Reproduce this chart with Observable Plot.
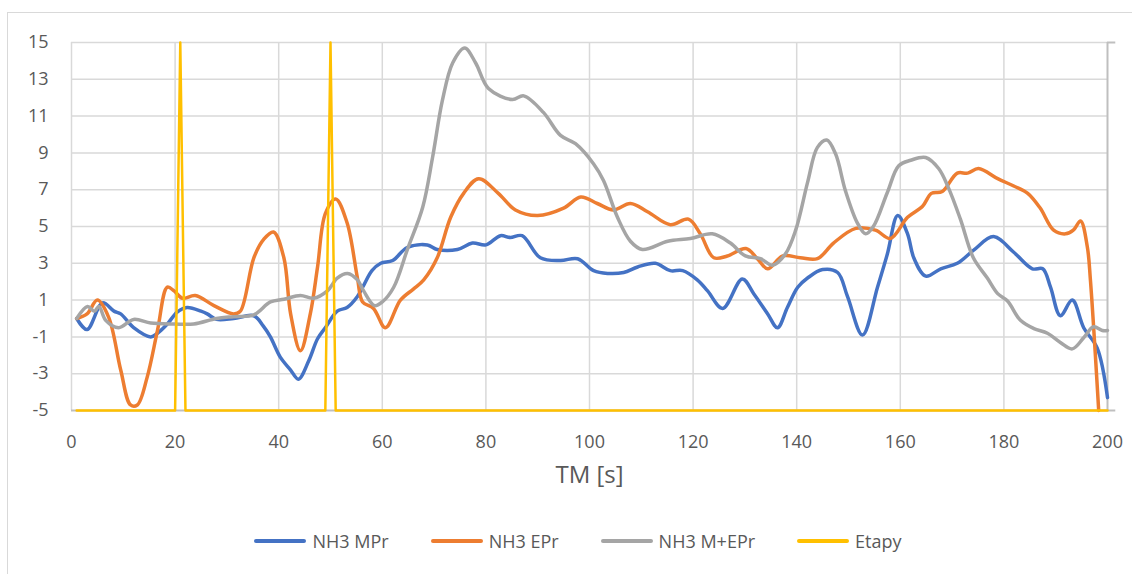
<!DOCTYPE html>
<html>
<head>
<meta charset="utf-8">
<script src="https://cdn.jsdelivr.net/npm/d3@7"></script>
<script src="https://cdn.jsdelivr.net/npm/@observablehq/plot@0.6"></script>
<style>
  html, body { margin: 0; padding: 0; background: #fff; overflow: hidden; width: 1132px; height: 574px; }
  #frame { position: absolute; left: 7px; top: 12px; width: 1300px; height: 800px; border: 1.5px solid #d9d9d9; box-sizing: border-box; }
  #chart { position: absolute; left: 0; top: 0; }
  #legend { position: absolute; left: 24px; top: 529px; width: 1108px; height: 24px; display: flex; justify-content: center; align-items: center;
            font-family: 'Open Sans', sans-serif; font-size: 18px; color: #595959; line-height: 24px; }
  .item { display: flex; align-items: center; margin: 0 21px; }
  .sw { width: 52px; height: 4px; border-radius: 2px; margin-right: 6px; }
</style>
</head>
<body>
<div id="frame"></div>
<div id="chart"></div>
<div id="legend"></div>
<script>
const seriesNames = ["NH3 MPr", "NH3 EPr", "NH3 M+EPr", "Etapy"];
const seriesColors = ["#4472C4", "#ED7D31", "#A5A5A5", "#FFC000"];
const xTicks = [0, 20, 40, 60, 80, 100, 120, 140, 160, 180, 200];
const yTicks = [-5, -3, -1, 1, 3, 5, 7, 9, 11, 13, 15];

const mprX = [1, 3, 6, 8.2, 9.5, 12, 15.3, 16.6, 18.5, 20.4, 22.3, 25, 26.2, 28, 31.3, 35.2, 37, 38.4, 40.3, 42.3, 43.8, 45.8, 47.5, 49, 51.3, 53.2, 55.2, 56.4, 58, 59.7, 62, 64.8, 68.7, 70.6, 74.5, 77.4, 80, 82.8, 84.7, 87, 90.5, 94.4, 97.7, 100.8, 103.5, 106.6, 109.3, 112.7, 115.6, 118, 120.8, 122.8, 125.7, 129.5, 131.7, 134.4, 136.3, 138.2, 140.2, 142.1, 145, 147.9, 149.8, 152.7, 155.6, 157.5, 159.5, 161.4, 162.6, 164.9, 167.8, 171, 174.1, 178, 181.9, 185.5, 187.5, 189, 190.9, 193.2, 195.4, 198, 200];
const mprY = [0, -0.6, 0.85, 0.4, 0.25, -0.5, -1.0, -0.8, -0.3, 0.35, 0.6, 0.4, 0.25, -0.05, 0, 0.15, -0.4, -1.0, -2.1, -2.8, -3.3, -2.3, -1.1, -0.5, 0.4, 0.6, 1.2, 1.8, 2.6, 3.0, 3.15, 3.86, 4.0, 3.75, 3.75, 4.1, 4.0, 4.5, 4.4, 4.5, 3.3, 3.15, 3.25, 2.6, 2.45, 2.5, 2.8, 3.0, 2.6, 2.6, 2.1, 1.5, 0.55, 2.15, 1.35, 0.25, -0.5, 0.6, 1.7, 2.2, 2.66, 2.5, 1.2, -0.9, 1.7, 3.5, 5.6, 4.6, 3.3, 2.3, 2.7, 3.0, 3.7, 4.45, 3.6, 2.7, 2.7, 1.7, 0.15, 1.0, -0.5, -1.6, -4.3];

const eprX = [1, 3, 5, 7.2, 9.5, 11.4, 12.7, 14.6, 16.6, 18.5, 19.8, 21.4, 23.9, 27.5, 31.3, 32.6, 35.2, 37.1, 39, 41, 42.3, 44.2, 46.1, 47.5, 49, 51, 53.2, 55.2, 56.2, 58.3, 60.6, 63.5, 66, 68, 70.6, 73.2, 75.7, 78.6, 82.4, 85.7, 90, 95, 98.3, 101.5, 104.6, 107.9, 111.2, 115.6, 119.1, 121.4, 124, 126.6, 130.2, 132.4, 134.4, 137.3, 140.7, 144, 147.1, 151.4, 155.2, 158.1, 161.4, 164.3, 166, 168.1, 171, 173, 175.1, 178.8, 181.9, 184.6, 187, 189.6, 191.9, 193.4, 194.8, 196.1, 196.7, 198.3];
const eprY = [0, 0.25, 1.0, 0.05, -2.8, -4.7, -4.7, -3.2, -0.65, 1.7, 1.5, 1.1, 1.25, 0.7, 0.25, 0.4, 3.3, 4.3, 4.7, 3.3, 0.25, -1.75, 0.25, 2.8, 5.7, 6.5, 5.2, 2.2, 0.9, 0.55, -0.5, 1.0, 1.6, 2.1, 3.3, 5.5, 6.8, 7.6, 6.8, 5.9, 5.6, 6.0, 6.6, 6.25, 5.9, 6.25, 5.8, 5.1, 5.4, 4.6, 3.3, 3.4, 3.8, 3.25, 2.7, 3.4, 3.3, 3.25, 4.1, 4.9, 4.8, 4.35, 5.5, 6.1, 6.8, 6.9, 7.9, 7.9, 8.15, 7.6, 7.2, 6.8, 6.0, 4.8, 4.6, 4.8, 5.3, 3.9, 2.1, -5];

const mepX = [1, 3.1, 4.4, 5.3, 6.6, 9.1, 12, 15.3, 19.8, 23.6, 28, 31.3, 35.2, 38.4, 41, 44.2, 46.7, 49.4, 51.3, 53.3, 55.2, 56.4, 58.5, 60, 62.2, 64.9, 67.8, 69.7, 71.6, 73.6, 75.9, 78, 80.5, 85.1, 87.3, 91.1, 94.4, 97.3, 100.8, 102.7, 105.4, 107.9, 110.2, 115.1, 119.5, 123.7, 127.2, 130.1, 133, 135.3, 137.8, 139.8, 142.1, 144, 145.8, 147.5, 149.4, 151.7, 153.3, 154.8, 157.5, 159.7, 162, 164.9, 167.4, 169.3, 171.6, 174.1, 176.8, 178.8, 180.7, 183.2, 185.8, 188.4, 190.9, 193.2, 195.4, 197.3, 199, 200];
const mepY = [0, 0.65, 0.4, 0.65, -0.1, -0.5, -0.05, -0.25, -0.3, -0.3, 0, 0.1, 0.2, 0.9, 1.05, 1.25, 1.1, 1.5, 2.2, 2.45, 2.1, 1.5, 0.7, 0.9, 1.7, 3.8, 6.05, 8.75, 11.85, 13.9, 14.7, 13.9, 12.5, 11.9, 12.1, 11.2, 9.95, 9.5, 8.4, 7.5, 5.5, 4.2, 3.75, 4.2, 4.35, 4.6, 4.1, 3.4, 3.25, 2.9, 3.5, 4.8, 7.4, 9.3, 9.7, 8.95, 6.95, 5.2, 4.6, 5.0, 6.85, 8.3, 8.6, 8.75, 8.15, 7.1, 5.4, 3.3, 2.2, 1.35, 0.95, -0.1, -0.55, -0.8, -1.3, -1.65, -1.05, -0.45, -0.65, -0.65];

const etapyX = [1, 20, 21, 22, 49, 50, 51, 200];
const etapyY = [-5, -5, 15, -5, -5, 15, -5, -5];

const toRows = (xs, ys, s) => xs.map((x, i) => ({x, y: ys[i], s}));
const smooth = [
  toRows(mprX, mprY, seriesNames[0]),
  toRows(eprX, eprY, seriesNames[1]),
  toRows(mepX, mepY, seriesNames[2])
];
const etapy = toRows(etapyX, etapyY, seriesNames[3]);

const chart = Plot.plot({
  width: 1132,
  height: 510,
  marginLeft: 71,
  marginRight: 25,
  marginTop: 42,
  marginBottom: 100,
  style: {fontFamily: "'Open Sans', sans-serif", fontSize: "18px", color: "#595959", background: "transparent", overflow: "visible"},
  x: {domain: [0, 200], ticks: xTicks, tickSize: 0, tickPadding: 25, label: null, tickFormat: d => String(d)},
  y: {domain: [-5, 15], ticks: yTicks, tickSize: 0, tickPadding: 23, label: null, tickFormat: d => String(d)},
  marks: [
    Plot.gridX(xTicks.slice(0, -1), {stroke: "#d9d9d9", strokeOpacity: 1, strokeWidth: 1.5}),
    Plot.gridY(yTicks.slice(1), {stroke: "#d9d9d9", strokeOpacity: 1, strokeWidth: 1.5}),
    Plot.ruleX([200], {y1: -5, y2: 15, stroke: "#bfbfbf", strokeWidth: 2}),
    Plot.ruleY([-5], {x1: 0, x2: 201.6, stroke: "#bfbfbf", strokeWidth: 2}),
    Plot.ruleY([15], {x1: 200, x2: 201.6, stroke: "#bfbfbf", strokeWidth: 2}),
    ...smooth.map((rows, i) => Plot.line(rows, {x: "x", y: "y", stroke: seriesColors[i], strokeWidth: 3.5, curve: "catmull-rom"})),
    Plot.line(etapy, {x: "x", y: "y", stroke: seriesColors[3], strokeWidth: 2.5}),
    Plot.text(["TM [s]"], {frameAnchor: "bottom", dy: 72, fontSize: 24, fill: "#595959", text: d => d})
  ]
});
document.getElementById("chart").appendChild(chart);

const legend = document.getElementById("legend");
seriesNames.forEach((name, i) => {
  const item = document.createElement("div");
  item.className = "item";
  const sw = document.createElement("div");
  sw.className = "sw";
  sw.style.background = seriesColors[i];
  const t = document.createElement("span");
  t.textContent = name;
  item.appendChild(sw);
  item.appendChild(t);
  legend.appendChild(item);
});
</script>
</body>
</html>
